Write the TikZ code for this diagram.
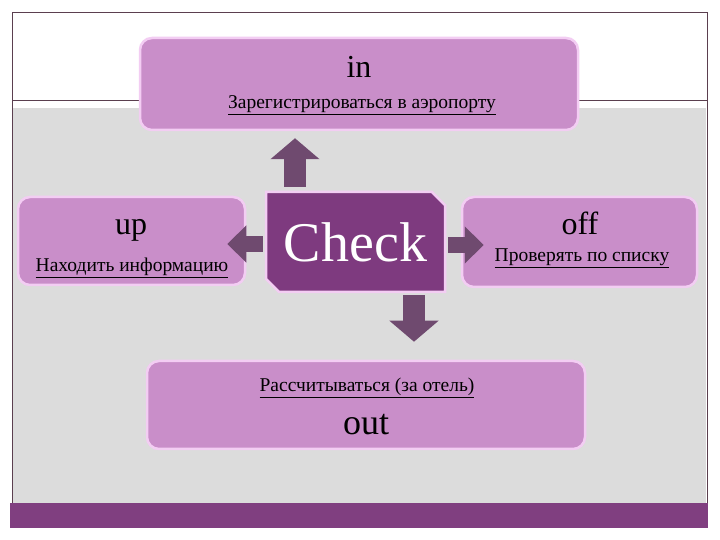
\documentclass[tikz,border=0pt]{standalone}
\usepackage{fontspec}
\setmainfont{Liberation Serif}
\usetikzlibrary{arrows.meta, shapes.misc}

\definecolor{boxfill}{HTML}{C98EC9}
\definecolor{boxline}{HTML}{F3CDF3}
\definecolor{hubfill}{HTML}{7E3A7F}
\definecolor{arrcol}{HTML}{6F4A6F}
\definecolor{bggray}{HTML}{DCDCDC}
\definecolor{barcol}{HTML}{803F80}
\definecolor{framecol}{HTML}{5B3F4F}

\begin{document}
\begin{tikzpicture}[
        x=1pt, y=1pt,
        box/.style={draw=boxline, line width=2.5pt, fill=boxfill,
        rounded corners=12pt, inner sep=0pt},
        hub/.style={draw=boxline, line width=2.5pt, fill=hubfill,
        chamfered rectangle, chamfered rectangle corners={north east, south west},
        chamfered rectangle xsep=10pt, inner sep=0pt, text=white,
        font=\fontsize{56}{60}\selectfont},
        ttl/.style={anchor=base, font=\fontsize{32}{36}\selectfont},
        note/.style={anchor=base, font=\fontsize{19.5}{23}\selectfont},
        vblk/.style={arrcol, line width=22pt, -{Triangle[length=21pt, width=48pt]}},
        hblk/.style={arrcol, line width=16pt, -{Triangle[length=19pt, width=36pt]}}
      ]
      % Background
      \useasboundingbox (0,0) rectangle (720,540);
      \fill[white] (0,0) rectangle (720,540);
      \fill[bggray] (13,37) rectangle (706,432);
      \fill[barcol] (10,12) rectangle (708,37);
      \draw[framecol, line width=0.8pt] (12,37) -- (12,528) -- (707,528) -- (707,37);
      \draw[framecol, line width=0.8pt] (12,440) -- (707,440);

      % Boxes
      \node[box, minimum width=438pt, minimum height=92pt] (in) at (359,456) {};
      \node[box, minimum width=227pt, minimum height=88pt] (up) at (131.5,299) {};
      \node[box, minimum width=235pt, minimum height=90pt] (off) at (579.5,298) {};
      \node[box, minimum width=438pt, minimum height=88pt] (out) at (366,135) {};

      % Labels
      \node[ttl] (in-ttl) at (359,462) {in};
      \node[note] (in-note) at (362,431) {\underline{Зарегистрироваться в аэропорту}};
      \node[ttl] (up-ttl) at (131,305) {up};
      \node[note] (up-note) at (132,268) {\underline{Находить информацию}};
      \node[ttl] (off-ttl) at (580,305) {off};
      \node[note] (off-note) at (582,278) {\underline{Проверять по списку}};
      \node[note] (out-note) at (367,148) {\underline{Рассчитываться (за отель)}};
      \node[ttl, font=\fontsize{36}{40}\selectfont] (out-ttl) at (366,105) {out};

      % Centre
      \node[hub, minimum width=179pt, minimum height=100pt] (check) at (355.5,298) {Check};

      % Block arrows
      \draw[vblk] ([xshift=-60.5pt,yshift=4pt]check.north) -- ([xshift=-64pt,yshift=-7pt]in.south);
      \draw[vblk] ([xshift=58.5pt,yshift=-2pt]check.south) -- ([xshift=48pt,yshift=18pt]out.north);
      \draw[hblk] ([xshift=-2pt,yshift=-2pt]check.west) -- ([xshift=-19pt,yshift=-3pt]up.east);
      \draw[hblk] ([xshift=2pt,yshift=-3pt]check.east) -- ([xshift=23pt,yshift=-3pt]off.west);
    \end{tikzpicture}
\end{document}
